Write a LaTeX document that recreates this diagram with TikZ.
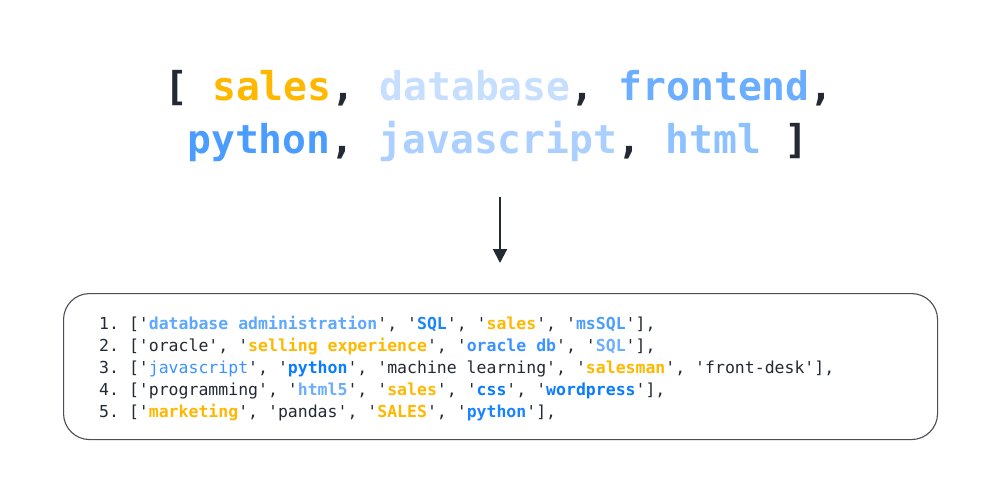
\documentclass[tikz,border=0pt]{standalone}
\usepackage{fontspec}
\setmonofont{DejaVu Sans Mono}
\usetikzlibrary{arrows.meta}
\definecolor{dk}{HTML}{232A33}
\definecolor{amber}{HTML}{FFB800}
\definecolor{hdb}{HTML}{C7DFFF}
\definecolor{hfe}{HTML}{6BAEFF}
\definecolor{hpy}{HTML}{4A9DFF}
\definecolor{hjs}{HTML}{ABD0FF}
\definecolor{hht}{HTML}{8EC2FF}
\definecolor{cA}{HTML}{5EA8FF}
\definecolor{cB}{HTML}{1A84FF}
\definecolor{cC}{HTML}{4C9EFF}
\definecolor{cD}{HTML}{3B93FF}
\definecolor{cE}{HTML}{6BAEFF}
\definecolor{cF}{HTML}{0A7CFF}
\definecolor{boxline}{HTML}{4A4F55}
\newcommand\qb[2]{'\textcolor{#1}{\textbf{#2}}'}
\newcommand\qr[2]{'\textcolor{#1}{#2}'}
\tikzset{
  head/.style={anchor=base, inner sep=0pt, font=\ttfamily\bfseries\fontsize{39.7}{44}\selectfont, text=dk},
  codeline/.style={anchor=base west, inner sep=0pt, font=\ttfamily\fontsize{16.5}{20}\selectfont, text=dk},
  panel/.style={draw=boxline, line width=1.1pt, rounded corners=26pt},
  flow/.style={draw=dk, line width=2pt, -{Triangle[width=14pt,length=14pt]}}
}
\begin{document}
\begin{tikzpicture}[x=1pt,y=1pt]
\useasboundingbox[fill=white] (0,0) rectangle (1000,-500);
\node[head] (h1) at (499,-101) {[ \textcolor{amber}{sales}, \textcolor{hdb}{database}, \textcolor{hfe}{frontend},};
\node[head] (h2) at (498,-153) {\textcolor{hpy}{python}, \textcolor{hjs}{javascript}, \textcolor{hht}{html} ]};
\coordinate (a1) at (500,-197);
\coordinate (a2) at (500,-263);
\draw[flow] (a1) -- (a2);
\node[panel, minimum width=874pt, minimum height=146pt, anchor=north west] (box) at (63,-293) {};
\node[codeline] (l1) at (99,-329) {1. [\qb{cA}{database administration}, \qb{cB}{SQL}, \qb{amber}{sales}, \qb{cC}{msSQL}],};
\node[codeline] (l2) at (99,-351) {2. ['oracle', \qb{amber}{selling experience}, \qb{cD}{oracle db}, \qb{cE}{SQL}],};
\node[codeline] (l3) at (99,-373) {3. [\qr{cD}{javascript}, \qb{cF}{python}, 'machine learning', \qb{amber}{salesman}, 'front-desk'],};
\node[codeline] (l4) at (99,-395) {4. ['programming', \qb{cE}{html5}, \qb{amber}{sales}, \qb{cF}{css}, \qb{cF}{wordpress}],};
\node[codeline] (l5) at (99,-417) {5. [\qb{amber}{marketing}, 'pandas', \qb{amber}{SALES}, \qb{cB}{python}],};
\end{tikzpicture}
\end{document}
